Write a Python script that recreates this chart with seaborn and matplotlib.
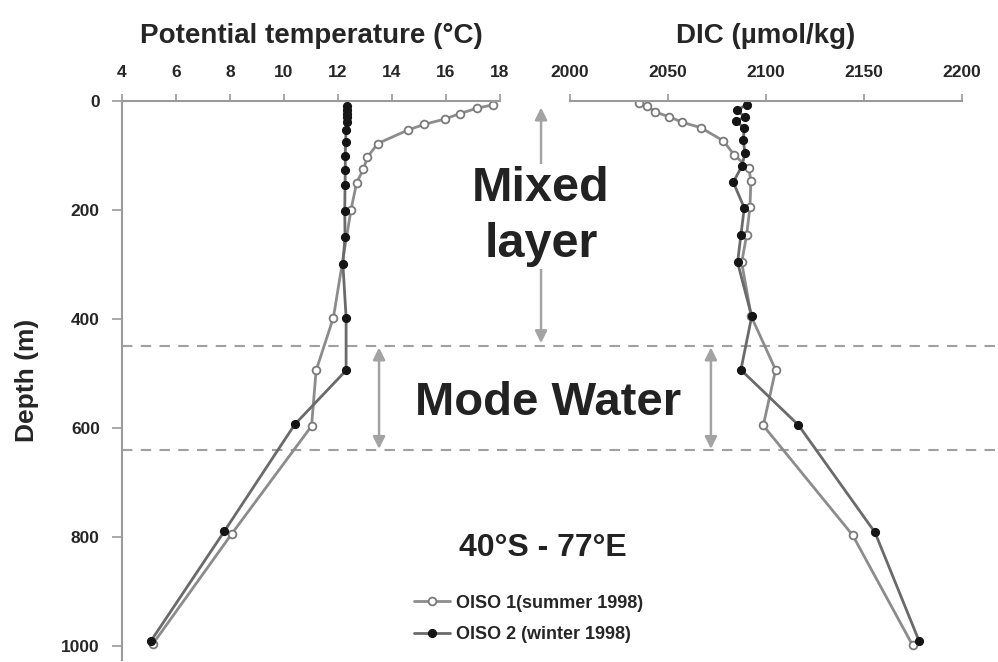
import matplotlib
matplotlib.use("Agg")
import matplotlib.pyplot as plt
import seaborn as sns
import pandas as pd

# ---- data ----
depth_temp_summer = [7, 13, 23, 33, 43, 53, 78, 103, 125, 150, 200, 397, 494, 596, 794, 995]
temp_summer = [17.75, 17.16, 16.52, 15.96, 15.19, 14.60, 13.47, 13.09, 12.94, 12.69, 12.48,
               11.83, 11.19, 11.02, 8.06, 5.15]

depth_temp_winter = [9, 16, 23, 30, 39, 53, 76, 101, 126, 154, 202, 249, 298, 397, 494, 593, 789, 991]
temp_winter = [12.32, 12.35, 12.33, 12.35, 12.32, 12.30, 12.28, 12.27, 12.27, 12.26, 12.25,
               12.26, 12.18, 12.30, 12.30, 10.40, 7.79, 5.06]

depth_dic_summer = [3, 9, 20, 29, 39, 49, 73, 99, 123, 146, 195, 246, 296, 395, 493, 595, 796, 998]
dic_summer = [2035.4, 2039.4, 2043.4, 2050.7, 2057.3, 2066.8, 2078.2, 2083.8, 2091.2, 2092.3,
              2091.8, 2090.1, 2087.6, 2092.5, 2104.9, 2098.6, 2144.2, 2174.8]

depth_dic_winter = [7, 17, 29, 37, 49, 72, 96, 120, 149, 196, 246, 296, 395, 493, 594, 791, 991]
dic_winter = [2090.1, 2085.0, 2089.3, 2084.5, 2088.9, 2088.4, 2089.3, 2087.6, 2083.3, 2088.9,
              2087.2, 2085.5, 2092.7, 2087.2, 2116.5, 2155.6, 2178.2]

temp_ticks = [4, 6, 8, 10, 12, 14, 16, 18]
dic_ticks = [2000, 2050, 2100, 2150, 2200]
depth_ticks = [0, 200, 400, 600, 800, 1000]
labels = ["OISO 1(summer 1998)", "OISO 2 (winter 1998)"]
mixed_layer_base = 450
mode_water_base = 640

# ---- style ----
sns.set_style("white")
plt.rcParams["font.family"] = ["Liberation Sans", "DejaVu Sans"]
plt.rcParams["font.weight"] = "bold"

AX_GRAY = "#9a9a9a"
SUM_LINE = "#8c8c8c"
WIN_LINE = "#6a6a6a"

fig = plt.figure(figsize=(9.98, 6.62), dpi=100)
ax1 = fig.add_axes([122 / 998, 2 / 662, 378 / 998, 559 / 662])
ax2 = fig.add_axes([570 / 998, 2 / 662, 392 / 998, 559 / 662])

df_ts = pd.DataFrame({"x": temp_summer, "depth": depth_temp_summer})
df_tw = pd.DataFrame({"x": temp_winter, "depth": depth_temp_winter})
df_ds = pd.DataFrame({"x": dic_summer, "depth": depth_dic_summer})
df_dw = pd.DataFrame({"x": dic_winter, "depth": depth_dic_winter})

summer_kw = dict(color=SUM_LINE, lw=2, marker="o", markersize=5.6,
                 markerfacecolor="white", markeredgecolor="#7a7a7a", markeredgewidth=1.3)
winter_kw = dict(color=WIN_LINE, lw=2, marker="o", markersize=5.6,
                 markerfacecolor="#151515", markeredgecolor="#151515", markeredgewidth=1)

for ax, ds, dw in [(ax1, df_ts, df_tw), (ax2, df_ds, df_dw)]:
    sns.lineplot(data=ds, x="x", y="depth", orient="y", estimator=None, ax=ax,
                 label=labels[0], legend=False, **summer_kw)
    sns.lineplot(data=dw, x="x", y="depth", orient="y", estimator=None, ax=ax,
                 label=labels[1], legend=False, **winter_kw)

# ---- axes ----
for ax in (ax1, ax2):
    ax.set_ylim(1025, 0)
    ax.xaxis.tick_top()
    ax.xaxis.set_label_position("top")
    ax.spines["bottom"].set_visible(False)
    ax.spines["right"].set_visible(False)
    ax.spines["top"].set_color(AX_GRAY)
    ax.spines["top"].set_linewidth(1.5)
    ax.tick_params(axis="x", direction="out", length=5, width=1.2, color=AX_GRAY,
                   labelsize=12.5, pad=10, top=True, bottom=False)
    ax.set_ylabel("")
    ax.patch.set_alpha(0)

ax1.set_xlim(4, 18)
ax1.set_xticks(temp_ticks)
ax1.set_yticks(depth_ticks)
ax1.spines["left"].set_color(AX_GRAY)
ax1.spines["left"].set_linewidth(1.5)
ax1.tick_params(axis="y", direction="out", length=7, width=1.2, color=AX_GRAY,
                labelsize=12.5, pad=9, left=True)
ax1.set_xlabel("Potential temperature (°C)", fontsize=20, fontweight="bold", labelpad=16)
ax1.set_ylabel("Depth (m)", fontsize=19, fontweight="bold", labelpad=16)

ax2.set_xlim(2000, 2200)
ax2.set_xticks(dic_ticks)
ax2.spines["left"].set_visible(False)
ax2.set_yticks([])
ax2.set_xlabel("DIC (µmol/kg)", fontsize=20, fontweight="bold", labelpad=16)

for t in ax1.get_xticklabels() + ax1.get_yticklabels() + ax2.get_xticklabels():
    t.set_fontweight("bold")

# ---- dashed layer boundaries across both panels ----
span = (998 - 122) / 378
for d in (mixed_layer_base, mode_water_base):
    ax1.axhline(d, xmin=0, xmax=span, color="#a0a0a0", lw=1.5, ls=(0, (5, 4)),
                clip_on=False, zorder=1)

# ---- arrows and annotations ----
arrow_kw = dict(arrowstyle="<|-|>", color="#a3a3a3", lw=1.8, mutation_scale=18,
                shrinkA=0, shrinkB=0)
ax1.annotate("", xy=(19.52, 12), xytext=(19.52, 444), xycoords="data",
             arrowprops=arrow_kw, annotation_clip=False, zorder=2)
ax1.annotate("", xy=(13.52, 452), xytext=(13.52, 638), arrowprops=arrow_kw,
             annotation_clip=False, zorder=2)
ax2.annotate("", xy=(2071.9, 452), xytext=(2071.9, 638), arrowprops=arrow_kw,
             annotation_clip=False, zorder=2)

ax1.text(19.52, 212, "Mixed\nlayer", fontsize=35, fontweight="bold", color="#222222",
         ha="center", va="center", clip_on=False, zorder=5, linespacing=1.3,
         bbox=dict(boxstyle="square,pad=0.05", fc="white", ec="none"))
ax1.text(19.78, 554, "Mode Water", fontsize=34, fontweight="bold", color="#222222",
         ha="center", va="center", clip_on=False, zorder=5)
ax1.text(19.59, 819, "40°S - 77°E", fontsize=23, fontweight="bold", color="#222222",
         ha="center", va="center", clip_on=False, zorder=5)

handles, labs = ax1.get_legend_handles_labels()
fig.legend(handles, labs, loc="center left", bbox_to_anchor=(398 / 998, 1 - 619 / 662),
           frameon=False, handlelength=2.0, handletextpad=0.3,
           labelspacing=0.8, prop={"weight": "bold", "size": 13})

fig.savefig("out.png", dpi=100)
